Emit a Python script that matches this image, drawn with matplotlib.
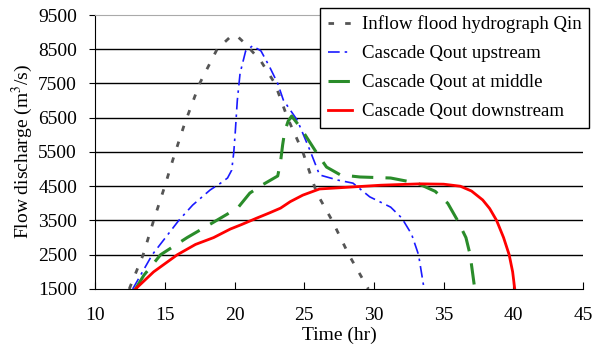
import numpy as np
import matplotlib.pyplot as plt

plt.rcParams['font.family'] = ['Liberation Serif', 'DejaVu Serif']
plt.rcParams['mathtext.fontset'] = 'stix'

# Inflow flood hydrograph
t_in = [12.45, 13.45, 14.2, 15.0, 15.6, 16.4, 17.5, 18.75, 19.8, 20.2, 20.8, 21.9,
        22.9, 23.8, 24.9, 25.9, 27.0, 28.2, 29.6]
q_in = [1500, 2500, 3500, 4500, 5300, 6300, 7500, 8500, 8900, 8880, 8650, 8150,
        7500, 6500, 5500, 4300, 3500, 2500, 1500]

# Cascade outflow upstream
t_up = [12.7, 14.1, 16.0, 17.0, 18.25, 19.0, 19.5, 19.8, 19.95, 20.05, 20.2, 20.4,
        20.8, 21.3, 21.9, 22.5, 23.1, 23.5, 24.5, 25.4, 26.1, 27.4, 28.5, 29.7,
        31.2, 32.0, 32.7, 33.2, 33.6]
q_up = [1500, 2500, 3500, 3950, 4390, 4590, 4740, 4970, 5500, 6050, 7000, 7800,
        8450, 8600, 8450, 8000, 7500, 7020, 6430, 5560, 4830, 4680, 4590, 4190,
        3890, 3570, 3100, 2500, 1500]

# Cascade outflow at middle
t_mid = [12.9, 13.5, 14.7, 16.6, 18.5, 19.5, 20.3, 21.1, 22.0, 23.1, 23.3, 23.45,
         23.6, 23.85, 24.1, 24.7, 25.9, 26.6, 27.6, 29.0, 31.2, 33.1, 34.4, 35.3,
         36.0, 36.6, 36.9, 37.2]
q_mid = [1500, 1900, 2500, 3000, 3450, 3690, 3900, 4300, 4540, 4800, 5200, 5700,
         6100, 6400, 6550, 6230, 5470, 5060, 4830, 4770, 4740, 4590, 4350, 4000,
         3500, 3000, 2500, 1600]

# Cascade outflow downstream
t_dn = [12.9, 14.2, 15.9, 17.2, 18.5, 19.7, 20.5, 21.6, 22.5, 23.3, 24.0, 24.9,
        26.1, 28.5, 30.5, 33.3, 35.0, 36.2, 37.0, 37.8, 38.3, 38.8, 39.3, 39.7,
        39.95, 40.1]
q_dn = [1500, 2000, 2500, 2800, 3000, 3250, 3380, 3570, 3720, 3860, 4050, 4240,
        4420, 4480, 4530, 4570, 4560, 4500, 4360, 4100, 3850, 3500, 3000, 2500,
        2000, 1500]

fig = plt.figure(figsize=(5.98, 3.49), dpi=100)
ax = fig.add_axes([0.159, 0.172, 0.816, 0.785])

ax.plot(t_in, q_in, color='#555555', lw=2.0, dashes=(2, 4),
        label='Inflow flood hydrograph Qin')
ax.plot(t_up, q_up, color='#1a1aff', lw=1.2, dashes=(7, 3, 1.5, 3),
        label='Cascade Qout upstream')
ax.plot(t_mid, q_mid, color='#2a8c2a', lw=2.2, dashes=(7, 4),
        label='Cascade Qout at middle')
ax.plot(t_dn, q_dn, color='#ff0000', lw=2.0,
        label='Cascade Qout downstream')

ax.set_xlim(10, 45)
ax.set_ylim(1500, 9500)
ax.set_xticks(np.arange(10, 46, 5))
ax.set_yticks(np.arange(1500, 9501, 1000))
for yv in range(2500, 9000, 1000):
    ax.axhline(yv, color='black', lw=1.0, zorder=0)

ax.spines['right'].set_visible(False)
ax.spines['top'].set_color('#aaaaaa')
ax.tick_params(axis='x', direction='in', length=5, labelsize=14, pad=13)
ax.tick_params(axis='y', direction='out', length=4, labelsize=14, pad=9)

ax.set_xlabel('Time (hr)', fontsize=14, labelpad=2)
ax.set_ylabel('Flow discharge (m$^3$/s)', fontsize=14, labelpad=2)

leg = ax.legend(loc='upper right', bbox_to_anchor=(1.012, 1.026), fontsize=13.6,
                frameon=True, fancybox=False, framealpha=1, edgecolor='black',
                handlelength=1.3, handletextpad=0.5, borderpad=0.4,
                labelspacing=0.62, borderaxespad=0)
leg.get_frame().set_linewidth(1.0)

fig.savefig('out.png', dpi=100)
